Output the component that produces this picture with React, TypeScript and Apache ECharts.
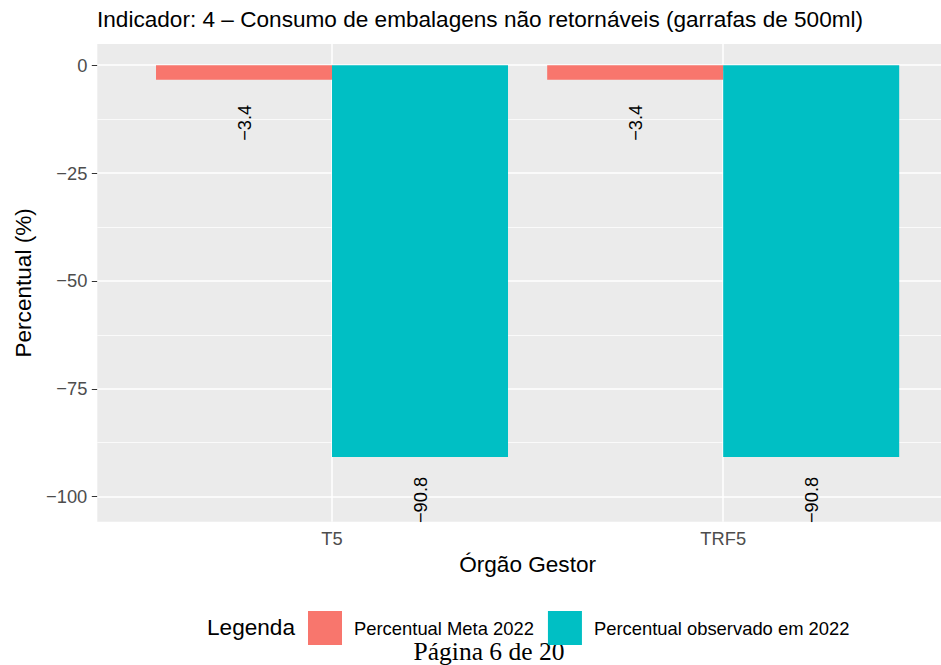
import React, { useEffect, useRef } from "react";
import * as echarts from "echarts";

const categories = ["T5", "TRF5"];
const metaValues = [-3.4, -3.4];
const observedValues = [-90.8, -90.8];
const seriesNames = ["Percentual Meta 2022", "Percentual observado em 2022"];
const yTicks = [0, -25, -50, -75, -100];
const yMinorTicks = [-12.5, -37.5, -62.5, -87.5];
const yRange = [-105.8, 4.9];
const xRange = [0.4, 2.6];

const FONT = "'Liberation Sans', Arial, Helvetica, sans-serif";
const BIG = 22.6;
const SMALL = 18.3;
const minus = (v: number | string) => String(v).replace("-", "\u2212");

export default function App() {
  const ref = useRef<HTMLDivElement>(null);
  useEffect(() => {
    if (!ref.current) return;
    const chart = echarts.init(ref.current, null, { renderer: "svg" });
    const xPos = categories.map((_, i) => i + 1);
    const barLabel = {
      show: true,
      position: "bottom",
      distance: 43,
      rotate: 90,
      align: "center",
      verticalAlign: "middle",
      color: "#000",
      fontSize: SMALL,
      fontFamily: FONT,
      formatter: (p: any) => minus(p.value[1]),
    };
    const gridLines = [
      ...yTicks.map((v) => ({ yAxis: v, lineStyle: { color: "#fff", width: 1.5, type: "solid" } })),
      ...yMinorTicks.map((v) => ({ yAxis: v, lineStyle: { color: "#fff", width: 0.75, type: "solid" } })),
      ...xPos.map((v) => ({ xAxis: v, lineStyle: { color: "#fff", width: 1.5, type: "solid" } })),
    ];
    chart.setOption({
      animation: false,
      title: {
        text: "Indicador: 4 \u2013 Consumo de embalagens n\u00e3o retorn\u00e1veis (garrafas de 500ml)",
        left: 97,
        top: 8,
        padding: 0,
        textStyle: { fontSize: BIG, fontWeight: "normal", color: "#000", fontFamily: FONT },
      },
      grid: {
        left: 97.3,
        top: 44,
        width: 860.6,
        height: 477.7,
        show: true,
        backgroundColor: "#EBEBEB",
        borderWidth: 0,
        containLabel: false,
        outerBoundsMode: "none",
      },
      legend: {
        left: 308,
        top: 611,
        padding: 0,
        itemWidth: 34,
        itemHeight: 34,
        itemGap: 14,
        icon: "rect",
        data: seriesNames,
        textStyle: { fontSize: 18.4, color: "#000", fontFamily: FONT, padding: [0, 0, 0, 7] },
      },
      xAxis: {
        type: "value",
        min: xRange[0],
        max: xRange[1],
        name: "\u00d3rg\u00e3o Gestor",
        nameLocation: "middle",
        nameGap: 31,
        nameTextStyle: { fontSize: BIG, color: "#000", fontFamily: FONT },
        axisLine: { show: false },
        splitLine: { show: false },
        axisTick: { show: true, length: 5.5, customValues: xPos, lineStyle: { color: "#333", width: 1 } },
        axisLabel: {
          customValues: xPos,
          margin: 8,
          fontSize: SMALL,
          color: "#4D4D4D",
          fontFamily: FONT,
          formatter: (v: number) => categories[Math.round(v) - 1] ?? "",
        },
      },
      yAxis: {
        type: "value",
        min: yRange[0],
        max: yRange[1],
        name: "Percentual (%)",
        nameLocation: "middle",
        nameGap: 56,
        nameTextStyle: { fontSize: BIG, color: "#000", fontFamily: FONT },
        axisLine: { show: false },
        splitLine: { show: false },
        axisTick: { show: true, length: 5.5, customValues: yTicks, lineStyle: { color: "#333", width: 1 } },
        axisLabel: {
          customValues: yTicks,
          margin: 10,
          fontSize: SMALL,
          color: "#4D4D4D",
          fontFamily: FONT,
          formatter: (v: number) => minus(v),
        },
      },
      graphic: [
        {
          type: "text",
          left: 207,
          top: 616,
          style: { text: "Legenda", fontSize: BIG, fill: "#000", fontFamily: FONT },
        },
        {
          type: "text",
          x: 489,
          y: 651,
          style: {
            text: "P\u00e1gina 6 de 20",
            fontSize: 25.5,
            fill: "#000",
            fontFamily: "'Liberation Serif', 'Times New Roman', serif",
            textAlign: "center",
            textVerticalAlign: "middle",
          },
        },
      ],
      series: [
        {
          type: "line",
          data: [],
          z: 1,
          silent: true,
          markLine: {
            silent: true,
            z: 1,
            symbol: ["none", "none"],
            label: { show: false },
            emphasis: { disabled: true },
            data: gridLines,
          },
        },
        {
          name: seriesNames[0],
          type: "bar",
          z: 3,
          barWidth: 176,
          barGap: "0%",
          itemStyle: { color: "#F8766D" },
          label: barLabel,
          data: xPos.map((x, i) => [x, metaValues[i]]),
        },
        {
          name: seriesNames[1],
          type: "bar",
          z: 3,
          barWidth: 176,
          barGap: "0%",
          itemStyle: { color: "#00BFC4" },
          label: barLabel,
          data: xPos.map((x, i) => [x, observedValues[i]]),
        },
      ],
    });
    return () => chart.dispose();
  }, []);
  return (
    <div
      ref={ref}
      style={{ position: "absolute", left: 0, top: 0, width: 941, height: 665, background: "#fff" }}
    />
  );
}
